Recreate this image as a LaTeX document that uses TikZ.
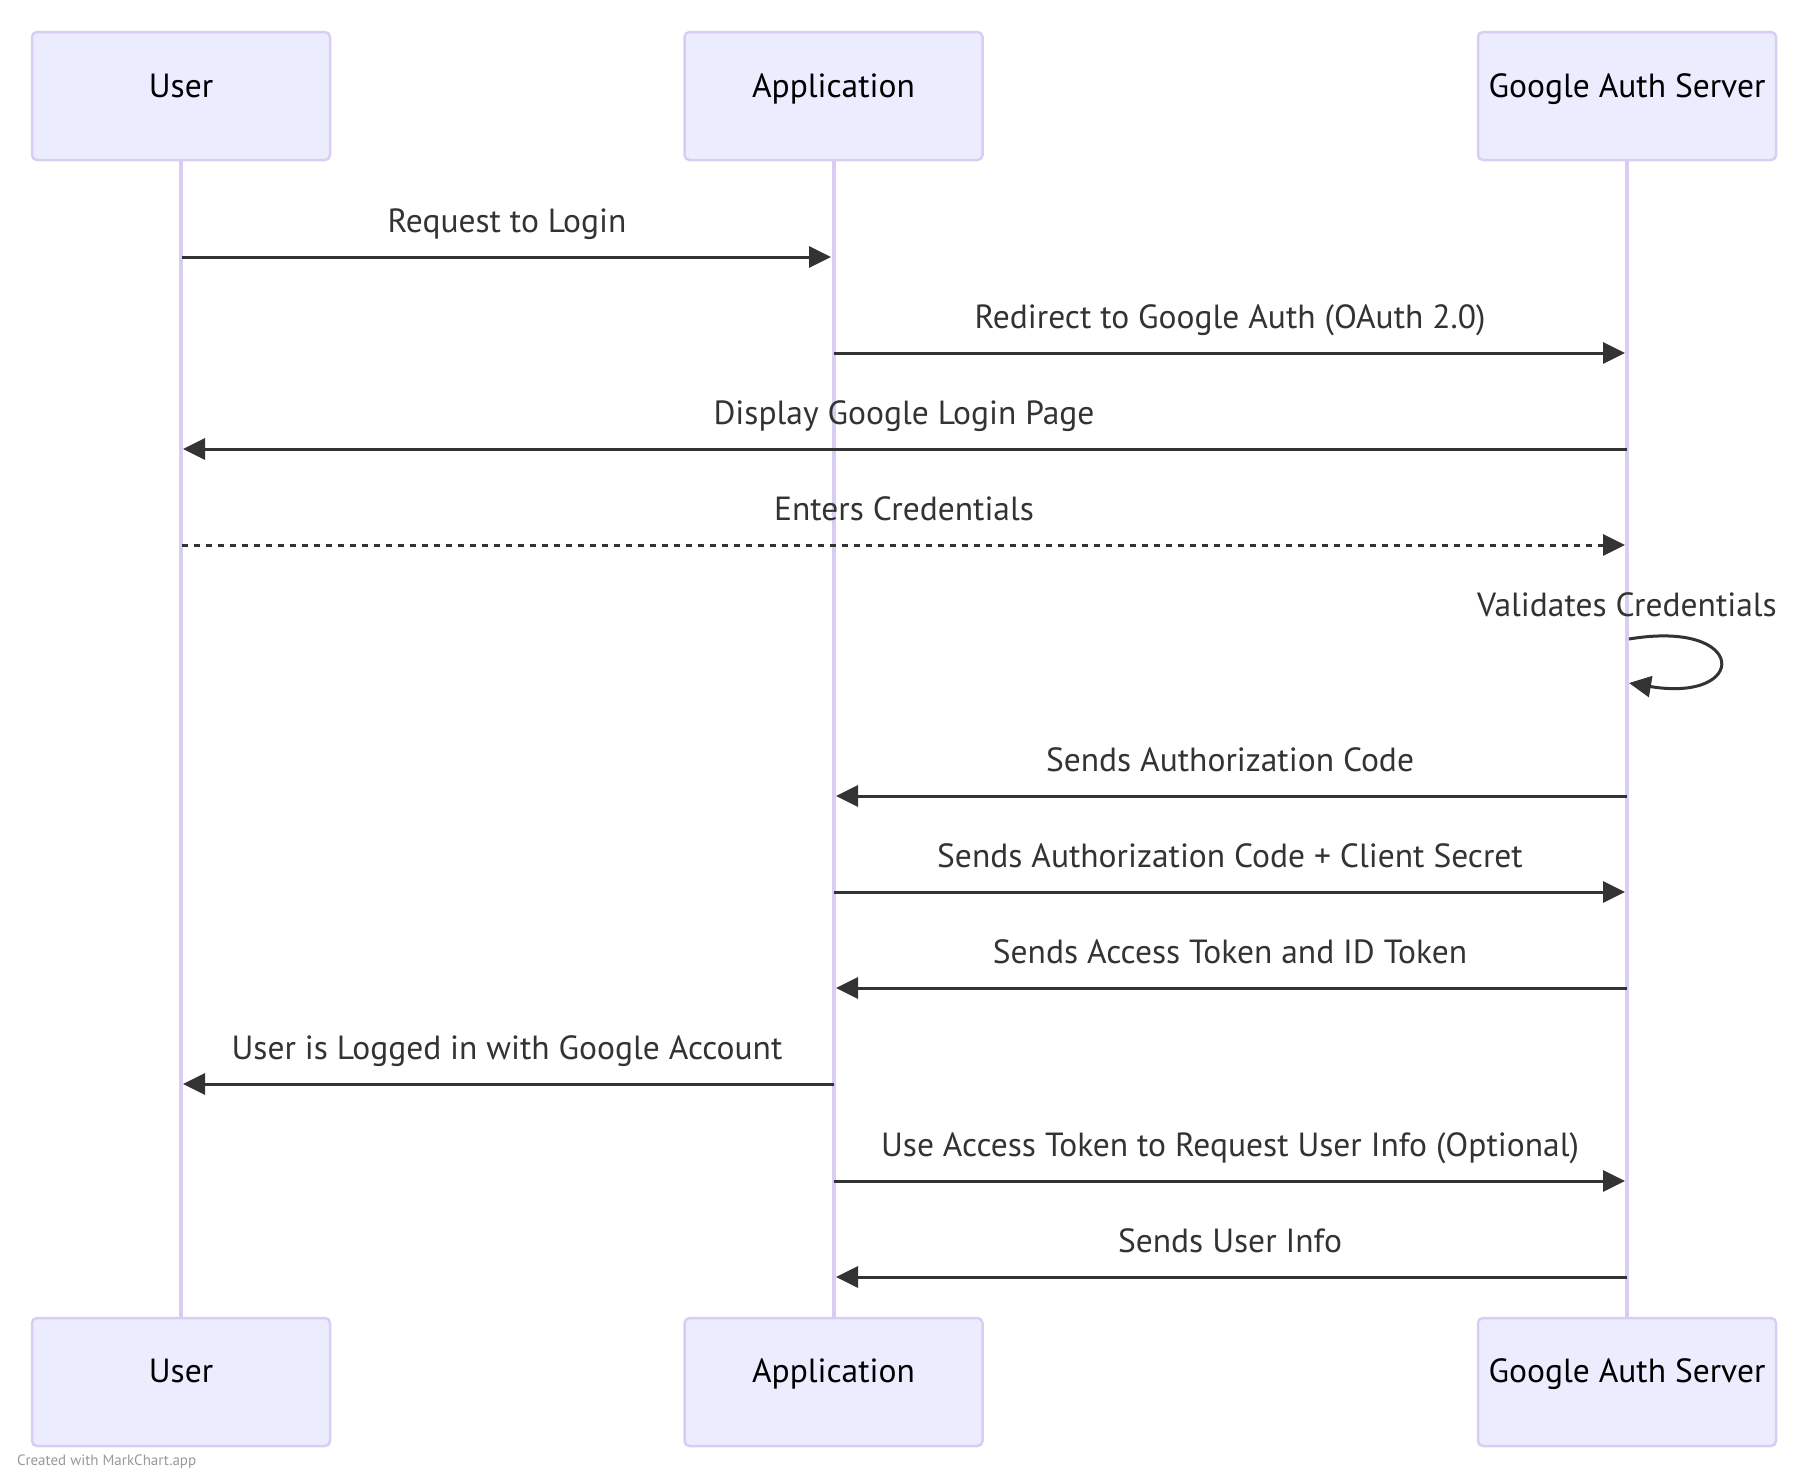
\documentclass[tikz,border=0pt]{standalone}
\usepackage{fontspec}
\setmainfont{PT Sans}
\usetikzlibrary{arrows.meta}
\definecolor{actfill}{HTML}{ECECFF}
\definecolor{actline}{HTML}{D9CDF3}
\definecolor{msgcol}{HTML}{333333}
\definecolor{credcol}{HTML}{999999}
\tikzset{
  actor/.style={draw=actline, fill=actfill, line width=2.5pt, rounded corners=5pt, minimum width=298pt, minimum height=128pt, inner sep=0pt},
  acttext/.style={anchor=base, font=\fontsize{33.5}{40}\selectfont, text=black},
  lifeline/.style={draw=actline, line width=4pt},
  msg/.style={draw=msgcol, line width=3pt, -{Triangle[length=22pt,width=21pt]}},
  msgdash/.style={msg, dash pattern=on 6pt off 6pt},
  msglabel/.style={anchor=base, font=\fontsize{33.5}{40}\selectfont, text=msgcol},
}
\begin{document}
\begin{tikzpicture}[x=1pt,y=-1pt]
\useasboundingbox (0,0) rectangle (1808,1468);
\fill[white] (0,0) rectangle (1808,1468);
% actors
\node[actor] (ut) at (181,96) {};
\node[actor] (at) at (833.5,96) {};
\node[actor] (gt) at (1627,96) {};
\node[actor] (ub) at (181,1382) {};
\node[actor] (ab) at (833.5,1382) {};
\node[actor] (gb) at (1627,1382) {};
\node[acttext] (utl) at (181,97) {User};
\node[acttext] (atl) at (833.5,97) {Application};
\node[acttext] (gtl) at (1627,97) {Google Auth Server};
\node[acttext] (ubl) at (181,1382) {User};
\node[acttext] (abl) at (833.5,1382) {Application};
\node[acttext] (gbl) at (1627,1382) {Google Auth Server};
% lifelines
\draw[lifeline] (ut.south) -- (ub.north);
\draw[lifeline] (at.south) -- (ab.north);
\draw[lifeline] (gt.south) -- (gb.north);
% coordinates for messages
\foreach \n/\y in {1/257,2/353,3/449,4/545,6/796,7/892,8/988,9/1084,10/1181,11/1277}{
  \coordinate (u\n) at (182,\y);
  \coordinate (a\n) at (834,\y);
  \coordinate (g\n) at (1627,\y);
  \coordinate (uL\n) at (183,\y);
  \coordinate (aL\n) at (831,\y);
  \coordinate (aR\n) at (836,\y);
  \coordinate (gL\n) at (1625,\y);
}
\draw[msg] (u1) -- (aL1);
\node[msglabel] (l1) at (507,232) {Request to Login};
\draw[msg] (a2) -- (gL2);
\node[msglabel] (l2) at (1230,328) {Redirect to Google Auth (OAuth 2.0)};
\draw[msg] (g3) -- (uL3);
\node[msglabel] (l3) at (904,424) {Display Google Login Page};
\draw[msgdash] (u4) -- (gL4);
\node[msglabel] (l4) at (904,520) {Enters Credentials};
% self message
\coordinate (s1) at (1629,639);
\coordinate (s2) at (1629,683);
\draw[msg] (s1) .. controls (1749,619) and (1749,703) .. (s2);
\node[msglabel] (l5) at (1627,616) {Validates Credentials};
\draw[msg] (g6) -- (aR6);
\node[msglabel] (l6) at (1230,771) {Sends Authorization Code};
\draw[msg] (a7) -- (gL7);
\node[msglabel] (l7) at (1230,867) {Sends Authorization Code + Client Secret};
\draw[msg] (g8) -- (aR8);
\node[msglabel] (l8) at (1230,963) {Sends Access Token and ID Token};
\draw[msg] (a9) -- (uL9);
\node[msglabel] (l9) at (507,1059) {User is Logged in with Google Account};
\draw[msg] (a10) -- (gL10);
\node[msglabel] (l10) at (1230,1156) {Use Access Token to Request User Info (Optional)};
\draw[msg] (g11) -- (aR11);
\node[msglabel] (l11) at (1230,1252) {Sends User Info};
% credit
\node[anchor=base west, font=\fontsize{15}{17}\selectfont, text=credcol, inner sep=0pt] (cred) at (17,1465) {Created with MarkChart.app};
\end{tikzpicture}
\end{document}
